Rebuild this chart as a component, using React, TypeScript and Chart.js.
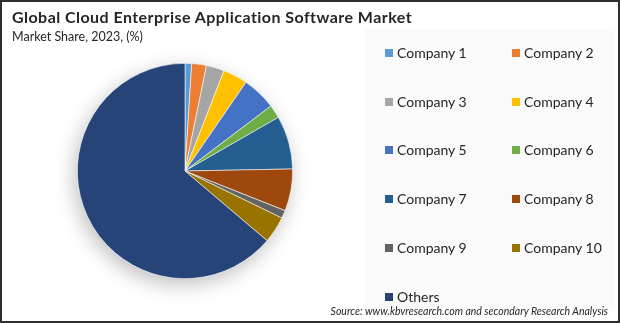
import React, { useEffect, useRef } from "react";
import { Chart, registerables } from "chart.js";

Chart.register(...registerables);

const categories = [
  "Company 1",
  "Company 2",
  "Company 3",
  "Company 4",
  "Company 5",
  "Company 6",
  "Company 7",
  "Company 8",
  "Company 9",
  "Company 10",
  "Others",
];
const shares = [1.0, 2.2, 2.7, 3.7, 5.1, 2.0, 8.0, 6.3, 1.2, 4.0, 63.8];
const colors = [
  "#5B9BD5",
  "#ED7D31",
  "#A5A5A5",
  "#FFC000",
  "#4472C4",
  "#70AD47",
  "#255E91",
  "#9E480E",
  "#636363",
  "#997300",
  "#264478",
];
const titleText = "Global Cloud Enterprise Application Software Market";
const subtitleText = "Market Share, 2023, (%)";
const sourceText = "Source: www.kbvresearch.com and secondary Research Analysis";

const FONT = "Lato, 'Open Sans', sans-serif";

const shadowPlugin = {
  id: "pieShadow",
  beforeDatasetsDraw(chart: any) {
    const meta = chart.getDatasetMeta(0);
    const arc = meta.data[0];
    if (!arc) return;
    const { x, y, outerRadius } = arc.getProps(["x", "y", "outerRadius"], true);
    const ctx = chart.ctx;
    ctx.save();
    ctx.shadowColor = "rgba(0,0,0,0.25)";
    ctx.shadowBlur = 20;
    ctx.shadowOffsetX = -3;
    ctx.shadowOffsetY = 6;
    ctx.beginPath();
    ctx.arc(x, y, outerRadius, 0, Math.PI * 2);
    ctx.fillStyle = "#ffffff";
    ctx.fill();
    ctx.restore();
  },
};

export default function App() {
  const canvasRef = useRef<HTMLCanvasElement | null>(null);

  useEffect(() => {
    if (!canvasRef.current) return;
    const chart = new Chart(canvasRef.current, {
      type: "pie",
      data: {
        labels: categories,
        datasets: [
          {
            data: shares,
            backgroundColor: colors,
            borderColor: "rgba(255,255,255,0.8)",
            borderWidth: 0.7,
          },
        ],
      },
      options: {
        animation: false,
        responsive: false,
        maintainAspectRatio: false,
        layout: { padding: { left: 77, top: 63, right: 327, bottom: 44 } },
        plugins: {
          legend: { display: false },
          tooltip: { enabled: false },
          title: { display: false },
        },
      },
      plugins: [shadowPlugin],
    });
    return () => chart.destroy();
  }, []);

  const legendRows: number[] = [53, 102, 150, 199, 248, 297];
  const colX = [385, 512];

  return (
    <div
      style={{
        position: "fixed",
        left: 0,
        top: 0,
        width: 620,
        height: 323,
        background: "#ffffff",
        boxSizing: "border-box",
        border: "2px solid #2e2e2e",
        overflow: "hidden",
        fontFamily: FONT,
      }}
    >
      <div
        style={{
          position: "absolute",
          left: 363,
          top: 27,
          width: 250,
          height: 280,
          background: "#fafafa",
        }}
      />
      <canvas
        ref={canvasRef}
        width={620}
        height={323}
        style={{ position: "absolute", left: -2, top: -2, width: 620, height: 323 }}
      />
      <div
        style={{
          position: "absolute",
          left: 10,
          top: 5,
          fontSize: 16,
          fontWeight: 700,
          color: "#262626",
          whiteSpace: "nowrap",
          letterSpacing: 0.45,
        }}
      >
        {titleText}
      </div>
      <div
        style={{
          position: "absolute",
          left: 10,
          top: 27,
          fontSize: 12.5,
          color: "#262626",
          whiteSpace: "nowrap",
        }}
      >
        {subtitleText}
      </div>
      {categories.map((c, i) => {
        const row = Math.floor(i / 2);
        const col = i % 2;
        const cy = legendRows[row] - 2;
        const bx = colX[col] - 2;
        return (
          <div key={c}>
            <div
              style={{
                position: "absolute",
                left: bx,
                top: cy - 4,
                width: 8,
                height: 8,
                background: colors[i],
              }}
            />
            <div
              style={{
                position: "absolute",
                left: bx + 12,
                top: cy - 9,
                height: 18,
                lineHeight: "18px",
                fontSize: 14,
                color: "#262626",
                whiteSpace: "nowrap",
              }}
            >
              {c}
            </div>
          </div>
        );
      })}
      <div
        style={{
          position: "absolute",
          right: 10,
          top: 303,
          fontSize: 10.5,
          fontStyle: "italic",
          color: "#262626",
          whiteSpace: "nowrap",
        }}
      >
        {sourceText}
      </div>
    </div>
  );
}
